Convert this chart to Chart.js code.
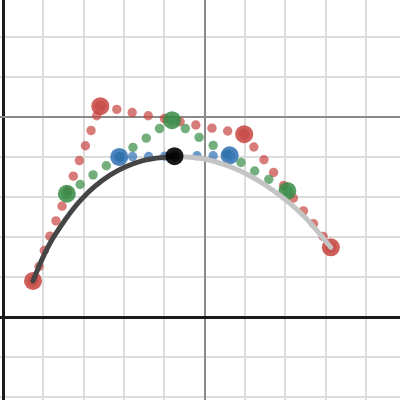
<!DOCTYPE html>
<html>
<head>
<meta charset="utf-8">
<script src="https://cdn.jsdelivr.net/npm/chart.js@4"></script>
<style>
  html, body { margin: 0; padding: 0; background: #fff; }
  #wrap { width: 400px; height: 400px; }
</style>
</head>
<body>
<div id="wrap"><canvas id="bezier" width="400" height="400"></canvas></div>
<script>
// view window (graph units); y span kept off a whole number so the ticks land on integers
const xMin = -0.079, xMax = 9.846;
const yMin = -2.068, yMax = 7.935;

// control points (red) and the construction levels at t = 0.5
const controlX = [0.74, 2.41, 5.98, 8.13];
const controlY = [0.91, 5.28, 4.58, 1.75];
const level1X = [1.58, 4.19, 7.05];
const level1Y = [3.09, 4.93, 3.16];
const level2X = [2.88, 5.62];
const level2Y = [4.01, 4.05];
const curvePointX = [4.25];
const curvePointY = [4.03];

// dotted segments
const redDotX = [0.89, 1.02, 1.16, 1.31, 1.46, 1.60, 1.74, 1.89, 2.04, 2.18, 2.32,
                 2.82, 3.20, 3.60, 4.00, 4.39, 4.78, 5.18, 5.57,
                 6.22, 6.47, 6.71, 6.96, 7.20, 7.45, 7.70, 7.94];
const redDotY = [1.27, 1.67, 2.03, 2.41, 2.78, 3.16, 3.53, 3.92, 4.29, 4.67, 5.04,
                 5.20, 5.12, 5.04, 4.97, 4.89, 4.81, 4.73, 4.66,
                 4.26, 3.94, 3.62, 3.30, 2.98, 2.66, 2.34, 2.02];
const greenDotX = [1.91, 2.23, 2.56, 2.89, 3.22, 3.55, 3.88,
                   4.52, 4.86, 5.21, 5.55, 5.90, 6.24, 6.59];
const greenDotY = [3.32, 3.56, 3.79, 4.02, 4.25, 4.48, 4.72,
                   4.72, 4.50, 4.30, 4.08, 3.87, 3.66, 3.45];
const blueDotX = [3.21, 3.61, 4.01, 4.81, 5.21];
const blueDotY = [4.02, 4.02, 4.03, 4.04, 4.04];

// the curve: traced part (dark) and remaining part (light)
const tracedX = [0.74, 1.00, 1.29, 1.94, 2.66, 3.44, 4.25];
const tracedY = [0.91, 1.53, 2.07, 2.95, 3.56, 3.91, 4.03];
const restX = [4.25, 5.08, 5.90, 6.70, 7.45, 8.13];
const restY = [4.03, 3.94, 3.65, 3.17, 2.54, 1.75];

const RED = '199,68,64', GREEN = '56,140,70', BLUE = '45,112,179', BLACK = '0,0,0';

const pts = (xs, ys) => xs.map((x, i) => ({ x: x, y: ys[i] }));

function dots(xs, ys, rgb, order) {
    return {
        data: pts(xs, ys), order: order,
        backgroundColor: 'rgba(' + rgb + ',0.7)',
        pointRadius: 4.7, pointBorderWidth: 0
    };
}

// a big point = translucent halo + darker core
function bigPoint(xs, ys, rgb, order, alpha) {
    return [{
        data: pts(xs, ys), order: order + 0.5,
        backgroundColor: 'rgba(' + rgb + ',' + alpha + ')',
        pointRadius: 9, pointBorderWidth: 0
    }, {
        data: pts(xs, ys), order: order,
        backgroundColor: 'rgba(' + rgb + ',0.55)',
        pointRadius: 5.5, pointBorderWidth: 0
    }];
}

function curve(xs, ys, color, order) {
    return {
        data: pts(xs, ys), order: order, showLine: true,
        borderColor: color, borderWidth: 5, borderCapStyle: 'round',
        pointRadius: 0, tension: 0.4, fill: false
    };
}

const minorColor = (ctx) => {
    const v = ctx.tick.value;
    if (!Number.isInteger(v) || v === 0 || v === 5) return 'rgba(0,0,0,0)';
    return '#dcdcdc';
};
const majorColor = (ctx) => {
    const v = ctx.tick.value;
    if (v === 0) return '#1a1a1a';
    if (v === 5) return '#8a8a8a';
    return 'rgba(0,0,0,0)';
};
const majorWidth = (ctx) => ctx.tick.value === 0 ? 3 : 2;

function axis(pos, min, max, colorFn, widthFn, z) {
    return {
        type: 'linear', position: pos, min: min, max: max,
        ticks: { display: false, stepSize: 1, includeBounds: false },
        grid: { color: colorFn, lineWidth: widthFn, drawTicks: false, z: z },
        border: { display: false }
    };
}

new Chart(document.getElementById('bezier'), {
    type: 'scatter',
    data: {
        datasets: [
            ...bigPoint(curvePointX, curvePointY, BLACK, 1, 0.9),
            curve(tracedX, tracedY, '#454545', 3),
            curve(restX, restY, '#c4c4c4', 3.2),
            ...bigPoint(level2X, level2Y, BLUE, 4, 0.85),
            dots(blueDotX, blueDotY, BLUE, 5),
            ...bigPoint(level1X, level1Y, GREEN, 6, 0.85),
            dots(greenDotX, greenDotY, GREEN, 7),
            ...bigPoint(controlX, controlY, RED, 8, 0.85),
            dots(redDotX, redDotY, RED, 9)
        ]
    },
    options: {
        responsive: false,
        devicePixelRatio: 1,
        animation: false,
        events: [],
        layout: { padding: 0, autoPadding: false },
        plugins: { legend: { display: false }, tooltip: { enabled: false } },
        scales: {
            x: axis('bottom', xMin, xMax, minorColor, 2, -3),
            y: axis('left', yMin, yMax, minorColor, 2, -3),
            x2: axis('top', xMin, xMax, majorColor, majorWidth, -1),
            y2: axis('right', yMin, yMax, majorColor, majorWidth, -1)
        }
    }
});
</script>
</body>
</html>
